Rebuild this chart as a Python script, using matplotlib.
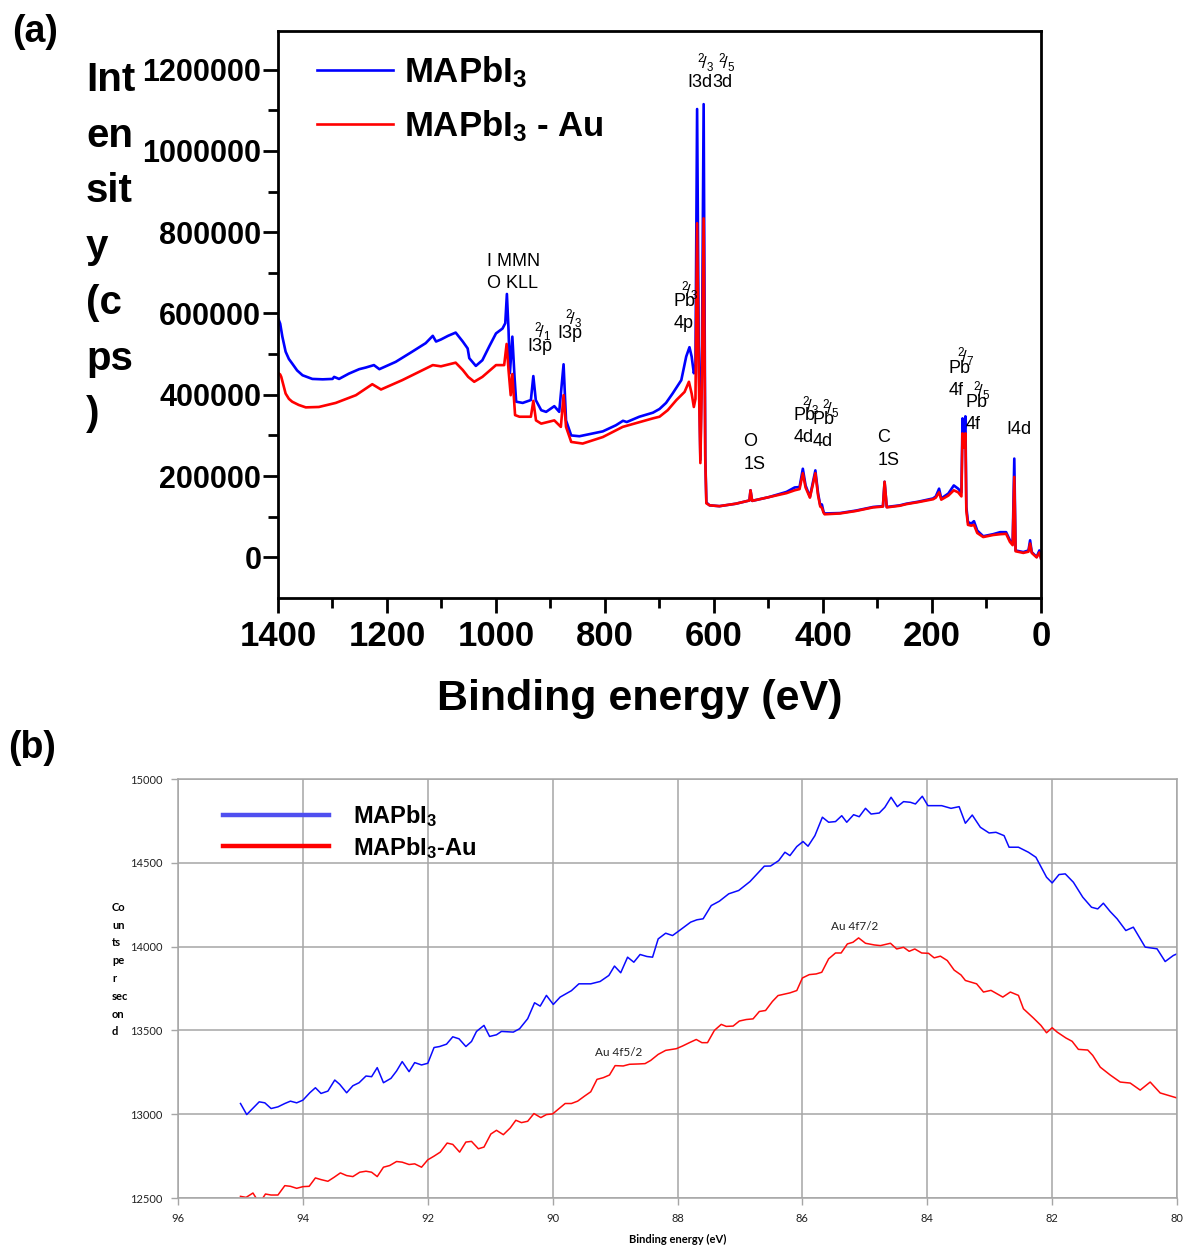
import matplotlib

matplotlib.use("Agg")
import matplotlib.pyplot as plt
from matplotlib.lines import Line2D

plt.rcParams["font.family"] = "Liberation Sans"
plt.rcParams["mathtext.fontset"] = "custom"
plt.rcParams["mathtext.rm"] = "Liberation Sans"
plt.rcParams["mathtext.bf"] = "Liberation Sans:bold"
plt.rcParams["mathtext.it"] = "Liberation Sans:italic"

# --- (a) survey spectrum, MAPbI3 ---
survey_be_mapbi3 = [1400, 1396, 1392, 1386, 1380, 1374, 1365, 1355, 1337, 1318, 1300, 1297, 1288,
                    1270, 1251, 1239, 1224, 1214, 1184, 1155, 1129, 1116, 1110,
                    1101, 1088, 1074, 1061, 1052, 1049, 1037, 1025, 1012, 1000,
                    988, 983, 980, 977, 974.5, 970, 966, 963, 951, 936,
                    931.5, 927, 917, 908, 893, 884, 876, 871.5, 862, 847,
                    825, 804, 780, 767, 760, 737, 712, 700, 688, 676,
                    660, 651, 645, 641, 637, 634, 631, 628, 625, 622,
                    619, 616, 614, 608, 590, 560, 535, 533, 530, 500,
                    467, 452, 443, 437, 432, 424, 414, 409, 405, 402,
                    399, 397, 369, 340, 308, 290, 287, 283, 259, 247,
                    225, 198, 193, 187, 183, 170, 160, 152, 146, 144,
                    141, 138.7, 137, 134, 128, 123, 117, 106, 88, 75,
                    64, 57, 52, 49, 46.6, 32.5, 23, 20, 17, 8,
                    3, 0]
survey_cps_mapbi3 = [589000, 575000, 543000, 506000, 488000, 477000, 460000, 448000, 439000, 438000, 439000, 444000, 439000,
                     452000, 463000, 467000, 473000, 463000, 481000, 505000, 527000, 545000, 531000,
                     536000, 545000, 553000, 531000, 514000, 490000, 471000, 485000, 520000, 551000,
                     563000, 576000, 648000, 559000, 453000, 543000, 444000, 383000, 380000, 387000,
                     446000, 387000, 362000, 358000, 372000, 358000, 475000, 337000, 300000, 298000,
                     304000, 310000, 325000, 336000, 333000, 346000, 356000, 365000, 380000, 403000,
                     436000, 494000, 517000, 494000, 453000, 470000, 1103000, 520000, 240000, 520000,
                     1115000, 250000, 135000, 128000, 126000, 132000, 140000, 165000, 139000, 148000,
                     161000, 172000, 173000, 218000, 177000, 149000, 214000, 157000, 128000, 130000,
                     112000, 108000, 109000, 115000, 124000, 126000, 186000, 124000, 128000, 132000,
                     137000, 145000, 150000, 169000, 145000, 157000, 177000, 169000, 160000, 342000,
                     290000, 347000, 124000, 87000, 83000, 89000, 66000, 52000, 57000, 62000,
                     62000, 42000, 34000, 243000, 17000, 13000, 17000, 42000, 13000, 1000,
                     17000, -2000]

# --- (a) survey spectrum, MAPbI3 - Au ---
survey_be_au = [1400, 1396, 1394, 1386, 1380, 1374, 1362, 1349, 1325, 1294, 1257, 1227,
                1211, 1172, 1116, 1101, 1074, 1061, 1051, 1040, 1025, 1000,
                985, 980.5, 977, 973, 970, 965, 957, 936, 931.5, 926.6,
                917, 893, 881, 876, 871.5, 862, 841, 804, 767.5, 712,
                700, 685, 669, 654, 646, 641, 637, 634, 631, 628,
                625, 622, 619, 616, 614, 608, 590, 560, 535, 533,
                530, 500, 467, 452, 443, 437, 432, 424, 414, 409,
                405, 402, 399, 397, 369, 340, 308, 290, 287, 283,
                259, 247, 225, 198, 193, 187, 183, 170, 160, 152,
                146, 144, 141, 138.7, 137, 134, 128, 123, 117, 106,
                88, 75, 64, 57, 52, 49, 46.6, 32.5, 23, 20,
                17, 8, 3, 0]
survey_cps_au = [454000, 450000, 444000, 403000, 390000, 383000, 375000, 369000, 370000, 380000, 399000, 426000,
                 413000, 436000, 473000, 470000, 479000, 461000, 444000, 432000, 444000, 473000,
                 473000, 525000, 461000, 399000, 451000, 350000, 346000, 346000, 385000, 337000,
                 329000, 337000, 321000, 399000, 321000, 284000, 280000, 296000, 321000, 342000,
                 346000, 362000, 387000, 407000, 432000, 403000, 370000, 390000, 822000, 450000,
                 232000, 450000, 834000, 240000, 133000, 128000, 126000, 132000, 140000, 165000,
                 139000, 148000, 158000, 165000, 168000, 207000, 172000, 147000, 207000, 152000,
                 125000, 122000, 110000, 106000, 108000, 114000, 123000, 125000, 186000, 123000,
                 127000, 131000, 136000, 143000, 147000, 160000, 142000, 152000, 165000, 160000,
                 150000, 305000, 270000, 305000, 115000, 80000, 78000, 80000, 60000, 50000,
                 55000, 57000, 58000, 38000, 30000, 198000, 15000, 11000, 14000, 34000,
                 11000, 0, 12000, -3000]

# peak assignments: (text, BE, intensity at top of text)
survey_labels = [("I MMN\nO KLL", 1016, 749000), ("I3p", 943, 540000), ("I3p", 887, 572000),
                 ("Pb\n4p", 674, 650000), ("I3d", 649, 1190000), ("3d", 603, 1190000),
                 ("O\n1S", 546, 305000), ("Pb\n4d", 454, 370000), ("Pb\n4d", 419, 360000),
                 ("C\n1S", 300, 315000), ("Pb\n4f", 169, 485000), ("Pb\n4f", 138, 402000),
                 ("I4d", 64, 335000)]
# spin-orbit fractions written above the labels
survey_fracs = [("2", "1", 930, 584000), ("2", "3", 873, 616000), ("2", "3", 660, 683000),
                ("2", "3", 632, 1244000), ("2", "5", 593, 1244000), ("2", "3", 439, 402000),
                ("2", "5", 402, 394000), ("2", "7", 154, 522000), ("2", "5", 125, 439000)]

survey_xticks = [1400, 1200, 1000, 800, 600, 400, 200, 0]
survey_yticks = [0, 200000, 400000, 600000, 800000, 1000000, 1200000]

# --- (b) Au 4f region ---
au4f_be_mapbi3 = [95.00, 94.90, 94.70, 94.61, 94.51, 94.40, 94.29, 94.20, 94.10, 94.00,
                  93.89, 93.80, 93.71, 93.60, 93.49, 93.41, 93.30, 93.20, 93.10, 92.99,
                  92.90, 92.81, 92.71, 92.59, 92.50, 92.41, 92.30, 92.21, 92.10, 92.00,
                  91.90, 91.81, 91.70, 91.60, 91.50, 91.39, 91.30, 91.22, 91.10, 91.01,
                  90.90, 90.82, 90.63, 90.53, 90.40, 90.29, 90.20, 90.10, 89.99, 89.88,
                  89.70, 89.58, 89.39, 89.24, 89.10, 89.01, 88.91, 88.80, 88.70, 88.60,
                  88.49, 88.40, 88.31, 88.19, 88.08, 87.97, 87.79, 87.69, 87.59, 87.46,
                  87.33, 87.18, 87.02, 86.84, 86.61, 86.51, 86.38, 86.28, 86.20, 86.09,
                  85.99, 85.91, 85.80, 85.68, 85.58, 85.47, 85.37, 85.29, 85.18, 85.09,
                  84.99, 84.90, 84.77, 84.68, 84.58, 84.48, 84.38, 84.27, 84.19, 84.08,
                  83.99, 83.77, 83.62, 83.49, 83.39, 83.28, 83.15, 83.01, 82.90, 82.77,
                  82.69, 82.54, 82.38, 82.26, 82.09, 82.00, 81.89, 81.79, 81.66, 81.51,
                  81.37, 81.27, 81.18, 81.07, 80.96, 80.82, 80.70, 80.51, 80.32, 80.19,
                  80.06, 80.00]
au4f_cps_mapbi3 = [13064, 12998, 13074, 13068, 13034, 13044, 13064, 13078, 13068, 13084,
                   13128, 13158, 13124, 13138, 13204, 13178, 13128, 13170, 13188, 13228,
                   13224, 13278, 13188, 13214, 13258, 13314, 13254, 13308, 13294, 13304,
                   13398, 13404, 13418, 13462, 13450, 13404, 13434, 13494, 13530, 13464,
                   13474, 13494, 13490, 13510, 13570, 13665, 13645, 13709, 13655, 13699,
                   13737, 13778, 13778, 13792, 13828, 13884, 13844, 13937, 13907, 13953,
                   13941, 13937, 14046, 14080, 14066, 14096, 14146, 14160, 14166, 14245,
                   14271, 14315, 14335, 14388, 14480, 14481, 14513, 14563, 14543, 14597,
                   14627, 14599, 14662, 14772, 14742, 14746, 14781, 14742, 14787, 14775,
                   14825, 14791, 14797, 14831, 14891, 14835, 14865, 14861, 14851, 14897,
                   14841, 14841, 14825, 14835, 14736, 14785, 14712, 14678, 14682, 14662,
                   14593, 14593, 14563, 14533, 14414, 14380, 14430, 14434, 14384, 14295,
                   14235, 14225, 14259, 14209, 14166, 14096, 14116, 13997, 13987, 13911,
                   13947, 13957]

au4f_be_au = [95.00, 94.91, 94.80, 94.73, 94.67, 94.60, 94.51, 94.40, 94.29, 94.20,
              94.10, 94.00, 93.90, 93.80, 93.71, 93.60, 93.50, 93.40, 93.30, 93.20,
              93.09, 92.99, 92.90, 92.81, 92.71, 92.61, 92.50, 92.41, 92.30, 92.21,
              92.10, 92.00, 91.90, 91.80, 91.69, 91.60, 91.49, 91.39, 91.30, 91.19,
              91.10, 90.99, 90.90, 90.79, 90.68, 90.59, 90.50, 90.40, 90.30, 90.19,
              90.10, 90.00, 89.91, 89.80, 89.70, 89.60, 89.49, 89.39, 89.29, 89.19,
              89.09, 89.00, 88.87, 88.77, 88.62, 88.52, 88.43, 88.31, 88.19, 88.02,
              87.92, 87.81, 87.70, 87.61, 87.52, 87.41, 87.30, 87.22, 87.11, 87.01,
              86.90, 86.79, 86.69, 86.59, 86.48, 86.39, 86.20, 86.09, 86.00, 85.89,
              85.78, 85.69, 85.58, 85.47, 85.38, 85.28, 85.19, 85.10, 84.99, 84.85,
              84.75, 84.59, 84.49, 84.38, 84.29, 84.20, 84.09, 83.98, 83.89, 83.79,
              83.68, 83.57, 83.46, 83.39, 83.21, 83.10, 82.98, 82.79, 82.67, 82.54,
              82.46, 82.30, 82.18, 82.09, 82.00, 81.92, 81.78, 81.68, 81.58, 81.43,
              81.35, 81.23, 81.07, 80.91, 80.75, 80.59, 80.43, 80.27, 80.11, 80.00]
au4f_cps_au = [12510, 12504, 12530, 12488, 12484, 12524, 12518, 12518, 12574, 12570,
               12558, 12568, 12570, 12620, 12610, 12600, 12624, 12650, 12634, 12628,
               12654, 12660, 12654, 12628, 12684, 12694, 12718, 12714, 12700, 12704,
               12684, 12728, 12750, 12774, 12828, 12820, 12774, 12834, 12838, 12794,
               12804, 12882, 12904, 12878, 12918, 12964, 12950, 12958, 13004, 12980,
               12998, 13002, 13030, 13064, 13064, 13078, 13108, 13134, 13208, 13218,
               13234, 13290, 13288, 13298, 13300, 13302, 13321, 13357, 13381, 13391,
               13407, 13427, 13446, 13427, 13427, 13500, 13536, 13524, 13526, 13556,
               13565, 13569, 13613, 13619, 13673, 13708, 13724, 13738, 13813, 13833,
               13837, 13847, 13927, 13962, 13962, 14016, 14026, 14052, 14020, 14010,
               14006, 14020, 13986, 13996, 13972, 13986, 13962, 13960, 13933, 13943,
               13917, 13860, 13831, 13798, 13778, 13729, 13739, 13699, 13729, 13709,
               13629, 13574, 13530, 13486, 13516, 13490, 13455, 13435, 13387, 13383,
               13351, 13281, 13234, 13192, 13186, 13144, 13192, 13127, 13109, 13097]

au4f_labels = [("Au 4f7/2", 85.17, 14123), ("Au 4f5/2", 88.95, 13371)]
au4f_xticks = [96, 94, 92, 90, 88, 86, 84, 82, 80]
au4f_yticks = [12500, 13000, 13500, 14000, 14500, 15000]

fig = plt.figure(figsize=(11.87, 12.49), dpi=100)

# ---------------- (a) survey ----------------
ax1 = fig.add_axes([0.2342, 0.5212, 0.6428, 0.4540])
ax1.plot(survey_be_mapbi3, survey_cps_mapbi3, color="#0000ff", lw=1.9,
         label=r"MAPbI$_\mathbf{3}$")
ax1.plot(survey_be_au, survey_cps_au, color="#ff0000", lw=1.9,
         label=r"MAPbI$_\mathbf{3}$ - Au")
ax1.set_xlim(1400, 0)
ax1.set_ylim(-100000, 1295000)
ax1.set_xticks(survey_xticks, [str(v) for v in survey_xticks],
               fontsize=25, fontweight="bold")
ax1.set_yticks(survey_yticks, [str(v) for v in survey_yticks],
               fontsize=22, fontweight="bold")
ax1.set_xticks(range(1300, 0, -200), minor=True)
ax1.set_yticks(range(100000, 1300000, 200000), minor=True)
ax1.tick_params(which="major", direction="out", length=11, width=2, pad=5)
ax1.tick_params(axis="y", which="major", pad=1)
ax1.tick_params(which="minor", direction="out", length=7, width=2)
for sp in ax1.spines.values():
    sp.set_linewidth(2)

for txt, be, cps in survey_labels:
    ax1.text(be, cps, txt, fontsize=13, ha="left", va="top", linespacing=1.4)
for num, den, be, cps in survey_fracs:
    ax1.text(be, cps, r"${}^{%s}\!/_{%s}$" % (num, den), fontsize=12,
             ha="left", va="top")

ax1.legend(loc="upper left", bbox_to_anchor=(0.051, 0.959), frameon=False,
           prop={"size": 25, "weight": "bold"}, handlelength=2.2,
           handletextpad=0.3, labelspacing=0.52, borderpad=0, borderaxespad=0)

ax1.set_xlabel("Binding energy (eV)", fontsize=31, fontweight="bold")
ax1.xaxis.set_label_coords(0.474, -0.143)
fig.text(86 / 1187, 1 - 61 / 1249, "Int\nen\nsit\ny\n(c\nps\n)", fontsize=29,
         fontweight="bold", va="top", ha="left", linespacing=1.59)
fig.text(12 / 1187, 1 - 14 / 1249, "(a)", fontsize=27, fontweight="bold", va="top")

# ---------------- (b) Au 4f ----------------
ax2 = fig.add_axes([0.15, 0.0408, 0.8416, 0.3355])
grid_c = "#a6a6a6"
ax2.plot(au4f_be_mapbi3, au4f_cps_mapbi3, color="#0a0aff", lw=1.1)
ax2.plot(au4f_be_au, au4f_cps_au, color="#ff0a0a", lw=1.1)
ax2.set_xlim(96, 80)
ax2.set_ylim(12500, 15000)
ax2.set_xticks(au4f_xticks, [str(v) for v in au4f_xticks], fontsize=8,
               family="Lato", color="#222222")
ax2.set_yticks(au4f_yticks, [str(v) for v in au4f_yticks], fontsize=8,
               family="Lato", color="#222222")
ax2.tick_params(direction="out", length=5, width=1, color=grid_c, pad=6)
ax2.grid(True, color=grid_c, lw=1.1)
ax2.set_axisbelow(True)
for sp in ax2.spines.values():
    sp.set_color(grid_c)
    sp.set_linewidth(1.1)

for txt, be, cps in au4f_labels:
    ax2.text(be, cps, txt, fontsize=8.5, family="Lato", ha="center", va="center",
             color="#222222")

handles = [Line2D([], [], color="#4f4ff0", lw=3.2),
           Line2D([], [], color="#ff0000", lw=3.2)]
ax2.legend(handles, [r"MAPbI$_\mathbf{3}$", r"MAPbI$_\mathbf{3}$-Au"],
           loc="upper left", bbox_to_anchor=(0.045, 0.943), frameon=False,
           prop={"size": 17, "weight": "bold"}, handlelength=4.5,
           handletextpad=1.0, labelspacing=0.25, borderpad=0, borderaxespad=0)

ax2.set_xlabel("Binding energy (eV)", fontsize=8, family="Lato",
               fontweight="bold", labelpad=7)
fig.text(112 / 1187, 1 - 902 / 1249, "Co\nun\nts\npe\nr\nsec\non\nd", fontsize=8,
         family="Lato", fontweight="bold", va="top", ha="left", linespacing=1.75)
fig.text(8 / 1187, 1 - 730 / 1249, "(b)", fontsize=27, fontweight="bold", va="top")

fig.savefig("out.png", dpi=100)
